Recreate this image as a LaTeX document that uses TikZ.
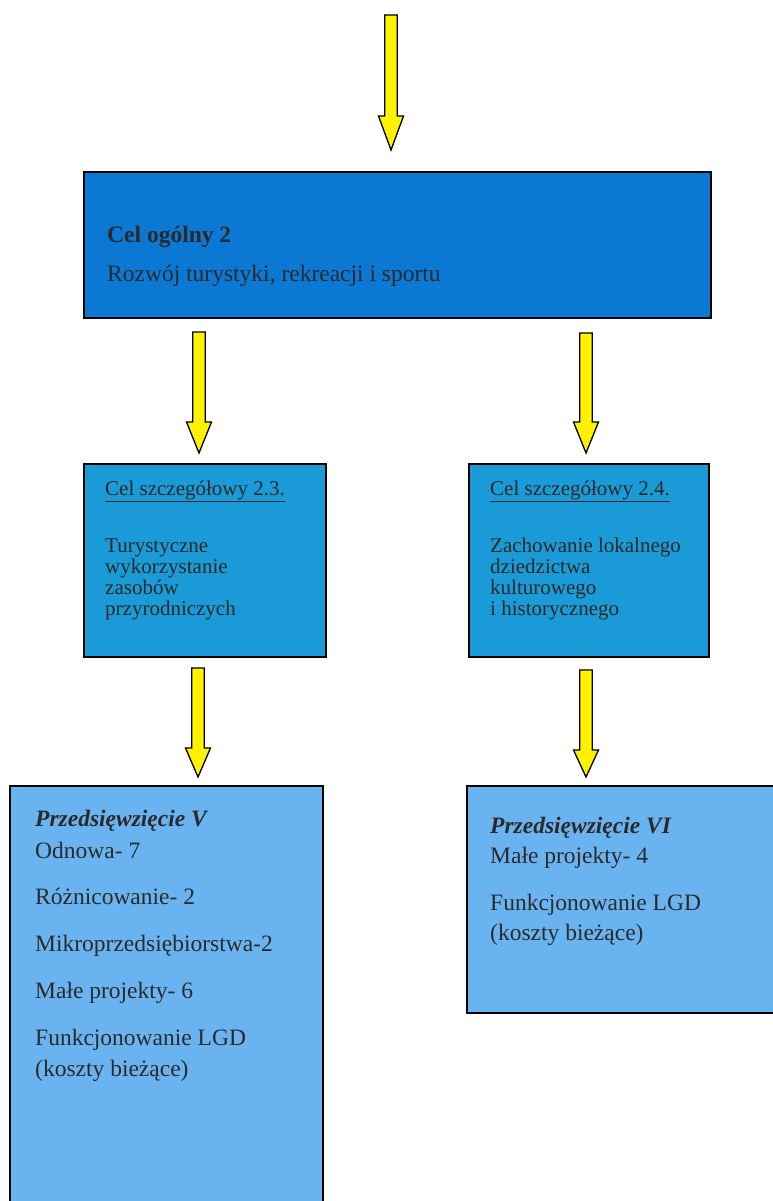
\documentclass[tikz,border=0pt]{standalone}
\usepackage{fontspec}
\setmainfont{Liberation Serif}
\definecolor{boxA}{HTML}{0B78D4}
\definecolor{boxB}{HTML}{1A9AD6}
\definecolor{boxC}{HTML}{69B4F0}
\definecolor{txt}{HTML}{2A2A2A}
\definecolor{arrowyellow}{HTML}{FFF200}
\newcommand\yellowarrow[4]{% x, top, head start, tip
  \draw[yarrow] (#1-6.3,#2) -- (#1+6.3,#2) -- (#1+6.3,#3) -- (#1+12.5,#3)
    -- (#1,#4) -- (#1-12.5,#3) -- (#1-6.3,#3) -- cycle;}
\begin{document}
\begin{tikzpicture}[x=1pt,y=-1pt,
  yarrow/.style={fill=arrowyellow,draw=black,line width=1.3pt,line join=miter},
  boxst/.style={draw=black,line width=1.3pt},
  t/.style={anchor=base west,inner sep=0pt,text=txt},
  big/.style={t,font=\fontsize{23.5}{28}\selectfont},
  mid/.style={t,font=\fontsize{21}{21}\selectfont}]
\useasboundingbox (0,0) rectangle (772,1201);
% boxes
\fill[boxA] (84,172) rectangle (711,318);
\draw[boxst] (84,172) rectangle (711,318);
\fill[boxB] (84,464) rectangle (326,657);
\draw[boxst] (84,464) rectangle (326,657);
\fill[boxB] (469,464) rectangle (709,657);
\draw[boxst] (469,464) rectangle (709,657);
\fill[boxC] (10,786) rectangle (323,1215);
\draw[boxst] (10,1215) -- (10,786) -- (323,786) -- (323,1215);
\fill[boxC] (467,786) rectangle (785,1013);
\draw[boxst] (785,786) -- (467,786) -- (467,1013) -- (785,1013);
% arrows
\yellowarrow{391}{15}{116}{150}
\yellowarrow{199}{332}{422}{453}
\yellowarrow{586}{333}{422}{453}
\yellowarrow{198}{668}{748}{777}
\yellowarrow{586}{670}{750}{777}
% box 1 text
\node[big] (g1) at (107,242) {\textbf{Cel ogólny 2}};
\node[big] (g2) at (107,281) {Rozwój turystyki, rekreacji i sportu};
% box 2.3
\node[mid] (a1) at (105,495) {\underline{Cel szczegółowy 2.3.}};
\node[mid] (a2) at (105,552) {Turystyczne};
\node[mid] (a3) at (105,573) {wykorzystanie};
\node[mid] (a4) at (105,594) {zasobów};
\node[mid] (a5) at (105,615) {przyrodniczych};
% box 2.4
\node[mid] (b1) at (490,495) {\underline{Cel szczegółowy 2.4.}};
\node[mid] (b2) at (490,552) {Zachowanie lokalnego};
\node[mid] (b3) at (490,573) {dziedzictwa};
\node[mid] (b4) at (490,594) {kulturowego};
\node[mid] (b5) at (490,615) {i historycznego};
% box V
\node[big] (c1) at (35,826) {\textbf{\textit{Przedsięwzięcie V}}};
\node[big] (c2) at (35,858) {Odnowa- 7};
\node[big] (c3) at (35,904) {Różnicowanie- 2};
\node[big] (c4) at (35,951) {Mikroprzedsiębiorstwa-2};
\node[big] (c5) at (35,998) {Małe projekty- 6};
\node[big] (c6) at (35,1045) {Funkcjonowanie LGD};
\node[big] (c7) at (35,1076) {(koszty bieżące)};
% box VI
\node[big] (d1) at (490,833) {\textbf{\textit{Przedsięwzięcie VI}}};
\node[big] (d2) at (490,863) {Małe projekty- 4};
\node[big] (d3) at (490,910) {Funkcjonowanie LGD};
\node[big] (d4) at (490,940) {(koszty bieżące)};
\end{tikzpicture}
\end{document}
